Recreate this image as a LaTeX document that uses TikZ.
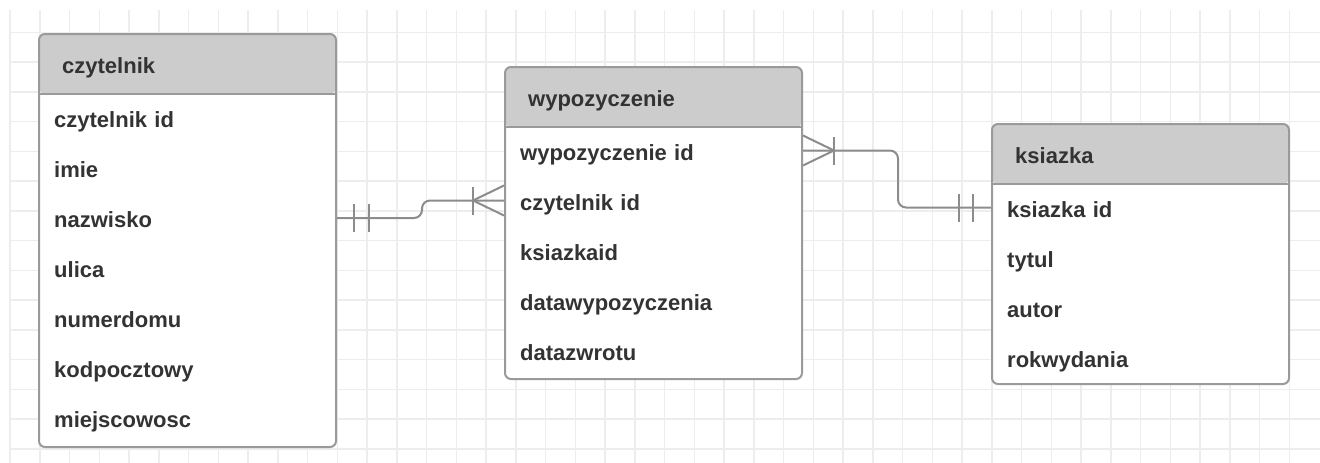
\documentclass[tikz,border=0pt]{standalone}
\usepackage{fontspec}
\setmainfont{Liberation Sans}
\usetikzlibrary{positioning}
\definecolor{gridcol}{HTML}{EDEDED}
\definecolor{headcol}{HTML}{CCCCCC}
\definecolor{bordercol}{HTML}{9A9A9A}
\definecolor{linecol}{HTML}{8C8C8C}
\definecolor{textcol}{HTML}{333333}
\tikzset{
  entity/.style={rectangle, rounded corners=6pt, draw=bordercol, line width=2pt, fill=white,
    minimum width=297pt, anchor=north west,
    path picture={
      \fill [headcol] (path picture bounding box.north west) rectangle ([yshift=-60pt]path picture bounding box.north east);
      \draw [bordercol, line width=2pt] ([yshift=-60pt]path picture bounding box.north west) -- ([yshift=-60pt]path picture bounding box.north east);
    }},
  title/.style={anchor=base west, inner sep=0pt, text=textcol, font=\fontsize{22}{26}\selectfont\bfseries},
  field/.style={inner sep=0pt, text width=250pt, align=left, text height=19pt, text depth=0pt,
    text=textcol, font=\fontsize{22}{26}\selectfont\bfseries},
  rel/.style={draw=linecol, line width=2pt},
  gridline/.style={draw=gridcol, line width=1.5pt}
}

\begin{document}
\begin{tikzpicture}[x=1pt, y=-1pt, node distance=50pt]
    \useasboundingbox (0,0) rectangle (1320,463);
    % background grid
    \foreach \i in {0,...,43} \draw [gridline] ({10+29.75*\i},10) -- ({10+29.75*\i},463);
    \foreach \i in {0,...,14} \draw [gridline] (10,{32.3+29.75*\i}) -- (1320,{32.3+29.75*\i});

    % czytelnik
    \node (czyt) [entity, minimum height=413pt] at (38,33) {};
    \node (czyt t) [title] at ([xshift=24pt, yshift=-40pt]czyt.north west) {czytelnik};
    \node (c-id) [field, anchor=base west] at ([xshift=16pt, yshift=-94.5pt]czyt.north west) {czytelnik id};
    \node (imie) [field, below of=c-id] {imie};
    \node (nazwisko) [field, below of=imie] {nazwisko};
    \node (ulica) [field, below of=nazwisko] {ulica};
    \node (numer) [field, below of=ulica] {numerdomu};
    \node (kod) [field, below of=numer] {kodpocztowy};
    \node (miejsc) [field, below of=kod] {miejscowosc};

    % wypozyczenie
    \node (wyp) [entity, minimum height=312pt] at (504,66) {};
    \node (wyp t) [title] at ([xshift=24pt, yshift=-40pt]wyp.north west) {wypozyczenie};
    \node (w-id) [field, anchor=base west] at ([xshift=16pt, yshift=-94pt]wyp.north west) {wypozyczenie id};
    \node (w-cid) [field, below of=w-id] {czytelnik id};
    \node (w-kid) [field, below of=w-cid] {ksiazkaid};
    \node (w-data) [field, below of=w-kid] {datawypozyczenia};
    \node (w-zwrot) [field, below of=w-data] {datazwrotu};

    % ksiazka
    \node (ks) [entity, minimum height=260pt] at (991,123) {};
    \node (ks t) [title] at ([xshift=24pt, yshift=-40pt]ks.north west) {ksiazka};
    \node (k-id) [field, anchor=base west] at ([xshift=16pt, yshift=-94pt]ks.north west) {ksiazka id};
    \node (tytul) [field, below of=k-id] {tytul};
    \node (autor) [field, below of=tytul] {autor};
    \node (rok) [field, below of=autor] {rokwydania};

    % relations
    \coordinate (a1) at (czyt.east |- nazwisko);
    \coordinate (a2) at (wyp.west |- w-cid);
    \coordinate (b1) at (wyp.east |- w-id);
    \coordinate (b2) at (ks.west |- k-id);
    \draw [rel, rounded corners=8pt] (a1) -- ++(85,0) |- (a2);
    \draw [rel, rounded corners=8pt] (b1) -- ++(95,0) |- (b2);

    % one and only one
    \foreach \d in {17,32} \draw [rel] ([xshift=\d pt]a1) ++(0,-14) -- ++(0,28);
    \foreach \d in {-18,-32} \draw [rel] ([xshift=\d pt]b2) ++(0,-14) -- ++(0,28);
    % one or many
    \draw [rel] ([yshift=15pt]a2) -- ([xshift=-31pt]a2) -- ([yshift=-15pt]a2);
    \draw [rel] ([xshift=-31pt]a2) ++(0,-14) -- ++(0,28);
    \draw [rel] ([yshift=15pt]b1) -- ([xshift=31pt]b1) -- ([yshift=-15pt]b1);
    \draw [rel] ([xshift=31pt]b1) ++(0,-14) -- ++(0,28);
\end{tikzpicture}
\end{document}
